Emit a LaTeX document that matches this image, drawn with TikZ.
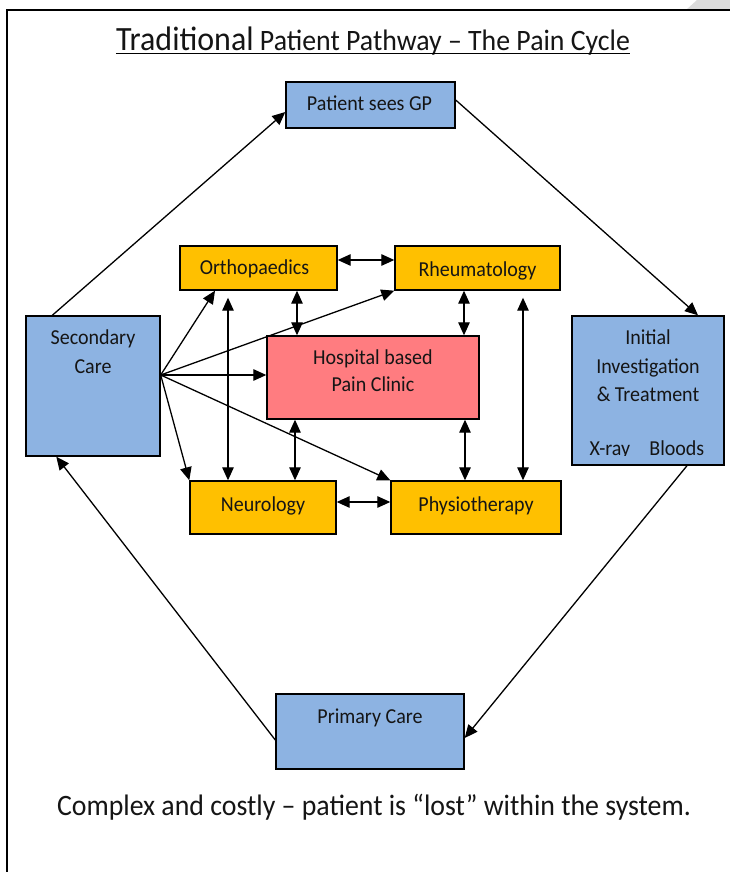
\documentclass[tikz,border=0pt]{standalone}
\usepackage{fontspec}
\setmainfont[FakeStretch=0.94]{Carlito}
\usetikzlibrary{arrows.meta}
\definecolor{boxblue}{HTML}{8DB3E2}
\definecolor{boxorange}{HTML}{FFC000}
\definecolor{boxpink}{HTML}{FF7C80}
\definecolor{pagegrey}{HTML}{DCDCDC}
\definecolor{ink}{HTML}{151515}
\begin{document}
\begin{tikzpicture}[x=1pt,y=-1pt,
  box/.style={draw=black, line width=1.4pt, rectangle, inner sep=0pt},
  bluebox/.style={box, fill=boxblue},
  orangebox/.style={box, fill=boxorange},
  pinkbox/.style={box, fill=boxpink},
  txt/.style={inner sep=0pt, anchor=base, text=ink, font=\fontsize{21.3}{24}\selectfont},
  bigtxt/.style={inner sep=0pt, anchor=base, text=ink, font=\fontsize{29.6}{34}\selectfont},
  arr/.style={line width=1.3pt, -{Triangle[length=13pt,width=11.5pt]}},
  darr/.style={line width=1.3pt, {Triangle[length=13pt,width=11.5pt]}-{Triangle[length=13pt,width=11.5pt]}},
]
\useasboundingbox[fill=white] (0,0) rectangle (730,872);
% page corner and frame
\fill[pagegrey] (686,10) -- (697,0) -- (730,0) -- (730,10) -- cycle;
\draw[line width=2pt] (7,872) -- (7,10) -- (730,10);

% title
\node[bigtxt] (title) at (373,51) {{\fontsize{34}{38}\selectfont Traditional} Patient Pathway – The Pain Cycle};
\draw[line width=1.5pt] ([yshift=-2.5pt]title.base west) -- ([yshift=-2.5pt]title.base east);

% boxes
\node[bluebox, minimum width=169pt, minimum height=46pt] (gp) at (370.5,105) {};
\node[orangebox, minimum width=157pt, minimum height=44pt] (ortho) at (258.5,268) {};
\node[orangebox, minimum width=165pt, minimum height=44pt] (rheum) at (477.5,268) {};
\node[bluebox, minimum width=134pt, minimum height=140pt] (sec) at (93,386) {};
\node[pinkbox, minimum width=212pt, minimum height=83pt] (pain) at (373,377.5) {};
\node[bluebox, minimum width=152pt, minimum height=149pt] (init) at (648,390.5) {};
\node[orangebox, minimum width=146pt, minimum height=53pt] (neuro) at (263,507.5) {};
\node[orangebox, minimum width=170pt, minimum height=53pt] (physio) at (476,507.5) {};
\node[bluebox, minimum width=188pt, minimum height=75pt] (prim) at (370,731.5) {};

% box texts
\node[txt] (gp-t) at (369.5,111) {Patient sees GP};
\node[txt] (ortho-t) at (254.5,274) {Orthopaedics};
\node[txt] (rheum-t) at (477.5,276) {Rheumatology};
\node[txt] (sec-t1) at (93,344) {Secondary};
\node[txt] (sec-t2) at (93,373) {Care};
\node[txt] (pain-t1) at (373,364) {Hospital based};
\node[txt] (pain-t2) at (373,391) {Pain Clinic};
\node[txt] (init-t1) at (648,344) {Initial};
\node[txt] (init-t2) at (648,373) {Investigation};
\node[txt] (init-t3) at (648,401) {\& Treatment};
\begin{scope}
\clip (573,430) rectangle (723,455.5);
\node[txt] (init-t4) at (647,455) {X-ray\hspace{0.9em}Bloods};
\end{scope}
\node[txt] (neuro-t) at (263,511) {Neurology};
\node[txt] (physio-t) at (476,511) {Physiotherapy};
\node[txt] (prim-t) at (370,723) {Primary Care};

% bottom text
\node[bigtxt] (note) at (374,815) {Complex and costly – patient is “lost” within the system.};

% cycle arrows
\draw[arr] ([xshift=27pt]sec.north west) -- ([yshift=-7pt]gp.west);
\draw[arr] ([yshift=5pt]gp.east) -- ([xshift=50pt]init.north);
\draw[arr] ([xshift=39pt]init.south) -- ([yshift=-6.5pt]prim.east);
\draw[arr] ([yshift=-8.5pt]prim.west) -- ([xshift=31pt]sec.south west);

% fan from secondary care
\draw[arr] ([yshift=11pt]sec.east) -- ([xshift=-43.5pt]ortho.south);
\draw[arr] ([yshift=11pt]sec.east) -- (rheum.south west);
\draw[arr] ([yshift=11pt]sec.east) -- ([yshift=2.5pt]pain.west);
\draw[arr] ([yshift=11pt]sec.east) -- (neuro.north west);
\draw[arr] ([yshift=11pt]sec.east) -- (physio.north west);

% links between specialties
\draw[darr] ([yshift=8pt]ortho.east) -- ([yshift=8pt]rheum.west);
\draw[darr] ([yshift=5.5pt]neuro.east) -- ([yshift=5.5pt]physio.west);
\draw[darr] ([xshift=38.5pt]ortho.south) -- ([xshift=-76pt]pain.north);
\draw[darr] ([xshift=-13.5pt]rheum.south) -- ([xshift=91pt]pain.north);
\draw[darr] ([xshift=-78pt]pain.south) -- ([xshift=32pt]neuro.north);
\draw[darr] ([xshift=92pt]pain.south) -- ([xshift=-11pt]physio.north);
\draw[darr] ([xshift=-30.5pt,yshift=-7pt]ortho.south) -- ([xshift=-35pt]neuro.north);
\draw[darr] ([xshift=45.5pt,yshift=-7pt]rheum.south) -- ([xshift=47pt]physio.north);
\end{tikzpicture}
\end{document}
